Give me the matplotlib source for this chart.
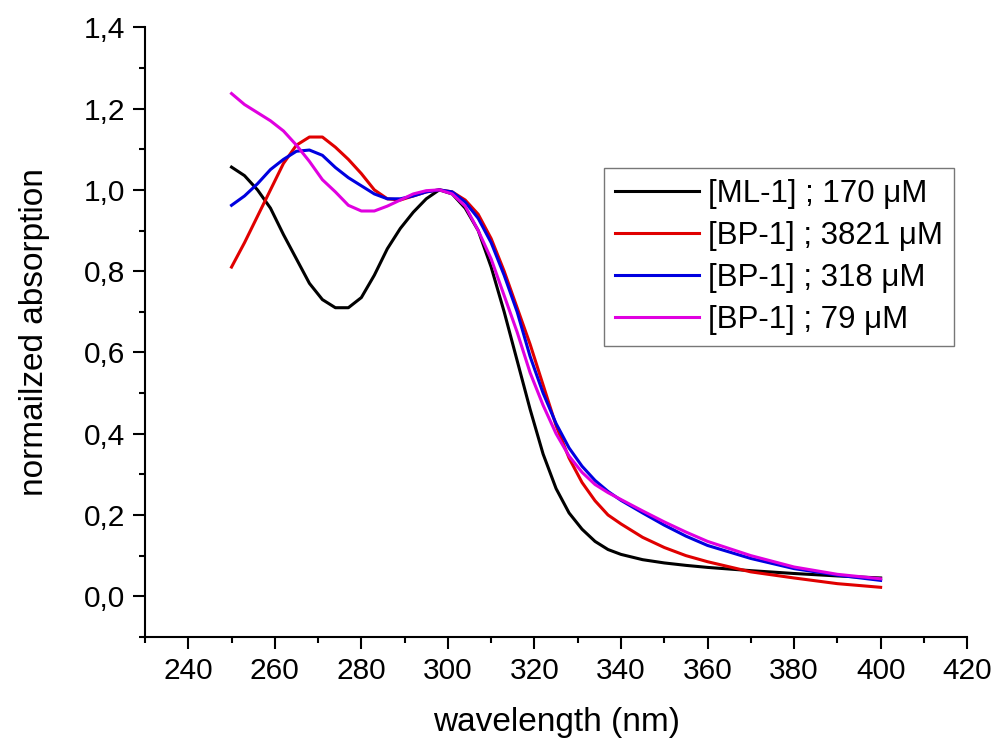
import matplotlib

matplotlib.use("Agg")
import matplotlib.pyplot as plt  # noqa: E402
from matplotlib.ticker import FuncFormatter, MultipleLocator  # noqa: E402

plt.rcParams["font.family"] = ["Liberation Sans", "DejaVu Sans"]

wavelength = [250, 253, 256, 259, 262, 265, 268, 271, 274, 277, 280, 283, 286, 289, 292, 295, 298,
              301, 304, 307, 310, 313, 316, 319, 322, 325, 328, 331, 334, 337, 340,
              345, 350, 355, 360, 370, 380, 390, 400]

ml1_170 = [1.056, 1.035, 1.00, 0.955, 0.89, 0.83, 0.77, 0.73, 0.71, 0.71, 0.735, 0.79, 0.855, 0.905,
           0.945, 0.978, 1.0, 0.99, 0.955, 0.90, 0.81, 0.70, 0.58, 0.46, 0.35, 0.265, 0.205, 0.165,
           0.135, 0.115, 0.103, 0.09, 0.082, 0.076, 0.071, 0.063, 0.056, 0.05, 0.045]

bp1_3821 = [0.81, 0.87, 0.935, 1.00, 1.065, 1.11, 1.13, 1.13, 1.105, 1.075, 1.04, 1.0, 0.978, 0.975,
            0.985, 0.995, 1.0, 0.995, 0.975, 0.94, 0.88, 0.80, 0.71, 0.62, 0.52, 0.42, 0.34, 0.28,
            0.235, 0.20, 0.178, 0.145, 0.12, 0.10, 0.085, 0.06, 0.045, 0.031, 0.022]

bp1_318 = [0.962, 0.985, 1.015, 1.05, 1.075, 1.095, 1.098, 1.085, 1.055, 1.03, 1.01, 0.99, 0.978, 0.978,
           0.985, 0.995, 1.0, 0.995, 0.97, 0.93, 0.87, 0.79, 0.70, 0.59, 0.50, 0.425, 0.365, 0.32,
           0.285, 0.258, 0.236, 0.205, 0.175, 0.148, 0.125, 0.093, 0.068, 0.052, 0.039]

bp1_79 = [1.237, 1.21, 1.19, 1.17, 1.145, 1.11, 1.07, 1.025, 0.995, 0.962, 0.948, 0.948, 0.96, 0.975,
          0.99, 0.998, 1.0, 0.99, 0.96, 0.90, 0.83, 0.74, 0.65, 0.55, 0.47, 0.40, 0.345, 0.305,
          0.275, 0.255, 0.238, 0.21, 0.183, 0.158, 0.135, 0.10, 0.072, 0.054, 0.043]

series = [
    ("[ML-1] ; 170 μM", ml1_170, "#000000"),
    ("[BP-1] ; 3821 μM", bp1_3821, "#e00000"),
    ("[BP-1] ; 318 μM", bp1_318, "#0000e0"),
    ("[BP-1] ; 79 μM", bp1_79, "#e000e0"),
]

fig = plt.figure(figsize=(9.93, 7.38), dpi=100)
ax = fig.add_axes([0.146, 0.137, 0.828, 0.826])

for label, values, color in series:
    ax.plot(wavelength, values, color=color, lw=2.2, label=label)

ax.set_xlim(230, 420)
ax.set_ylim(-0.1, 1.4)
ax.xaxis.set_major_locator(MultipleLocator(20))
ax.xaxis.set_minor_locator(MultipleLocator(10))
ax.yaxis.set_major_locator(MultipleLocator(0.2))
ax.yaxis.set_minor_locator(MultipleLocator(0.1))
ax.yaxis.set_major_formatter(FuncFormatter(lambda v, _: f"{v:.1f}".replace(".", ",").replace("-0,0", "0,0")))

for side in ("top", "right"):
    ax.spines[side].set_visible(False)
for side in ("left", "bottom"):
    ax.spines[side].set_linewidth(1.5)

ax.tick_params(which="major", direction="out", length=8.5, width=1.5, labelsize=21.5, pad=6)
ax.tick_params(which="minor", direction="out", length=4.5, width=1.5)

ax.set_xlabel("wavelength (nm)", fontsize=24, labelpad=16)
ax.set_ylabel("normailzed absorption", fontsize=24, labelpad=24)

leg = ax.legend(loc="upper left", bbox_to_anchor=(0.608, 0.772), bbox_transform=fig.transFigure,
                fontsize=22.5, frameon=True, fancybox=False, handlelength=2.7,
                handletextpad=0.3, borderpad=0.35, labelspacing=0.38, borderaxespad=0)
leg.get_frame().set_edgecolor("#555555")
leg.get_frame().set_linewidth(1.0)

fig.savefig("out.png", dpi=100)
